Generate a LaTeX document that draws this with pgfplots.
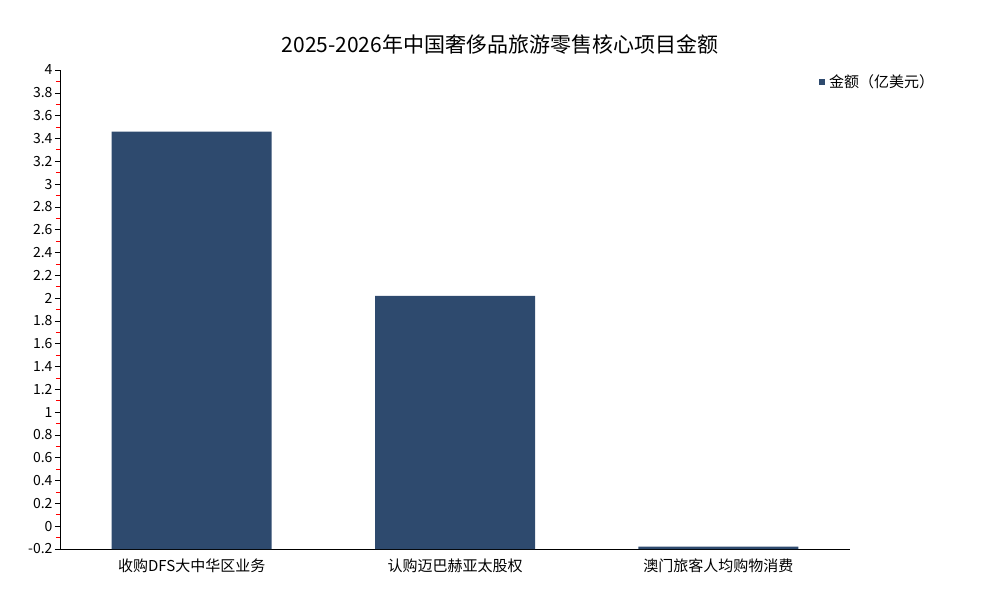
\documentclass[border=0pt]{standalone}
\usepackage{pgfplots}
\pgfplotsset{compat=1.18}
\usetikzlibrary{calc}
\usepackage{fontspec}
\setmainfont{Noto Sans CJK SC}
\definecolor{barblue}{HTML}{2E4A6E}
\begin{document}
\begin{tikzpicture}[x=1pt,y=1pt]
\begin{axis}[
  name=ax,
  anchor=origin, at={(0pt,0pt)},
  scale only axis, width=790pt, height=479pt,
  xmin=-0.5, xmax=2.5,
  ymin=-0.2, ymax=4,
  y coord trafo/.code={\pgfmathparse{#1+0.2}},
  y coord inv trafo/.code={\pgfmathparse{#1-0.2}},
  axis x line*=bottom, axis y line*=left,
  axis line style={black, line width=0.8pt},
  xtick={0,1,2},
  xticklabels={收购DFS大中华区业务,认购迈巴赫亚太股权,澳门旅客人均购物消费},
  xtick style={draw=none},
  ytick={-0.2,0,0.2,0.4,0.6,0.8,1,1.2,1.4,1.6,1.8,2,2.2,2.4,2.6,2.8,3,3.2,3.4,3.6,3.8,4},
  yticklabels={-0.2,0,0.2,0.4,0.6,0.8,1,1.2,1.4,1.6,1.8,2,2.2,2.4,2.6,2.8,3,3.2,3.4,3.6,3.8,4},
  minor ytick={-0.1,0.1,0.3,0.5,0.7,0.9,1.1,1.3,1.5,1.7,1.9,2.1,2.3,2.5,2.7,2.9,3.1,3.3,3.5,3.7,3.9},
  tick align=outside,
  major tick length=5pt, minor tick length=4pt,
  every major tick/.append style={black, line width=0.6pt},
  every minor tick/.append style={red, line width=0.7pt},
  yticklabel style={font=\fontsize{14}{14}\selectfont, xshift=1pt},
  xticklabel style={font=\fontsize{15}{15}\selectfont, yshift=-1pt},
  ybar, bar width=160pt, bar shift=0pt,
  enlargelimits=false,
  clip=false,
]
\addplot[fill=barblue, draw=none] coordinates {(0,3.46) (1,2.02) (2,-0.18)};
\end{axis}
\path (ax.south west) ++(-60pt,-51pt) coordinate (bl) rectangle ++(1000pt,600pt);
\node[font=\fontsize{21}{21}\selectfont] at ($(bl)+(500pt,555pt)$) {2025-2026年中国奢侈品旅游零售核心项目金额};
\fill[barblue] ($(bl)+(819pt,515pt)$) rectangle ++(6pt,6pt);
\node[anchor=west, font=\fontsize{15}{15}\selectfont, inner sep=0pt] at ($(bl)+(829pt,518pt)$) {金额（亿美元）};
\end{tikzpicture}
\end{document}
